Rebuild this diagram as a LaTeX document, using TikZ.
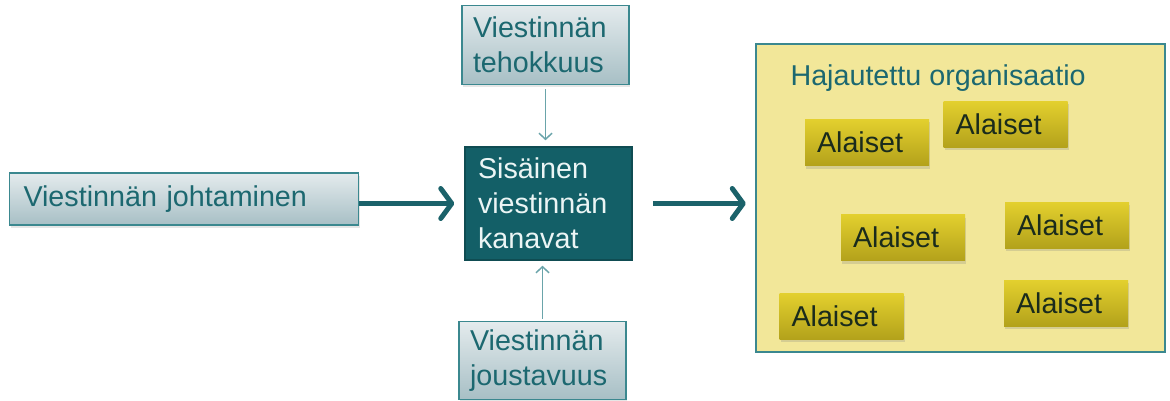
\documentclass[tikz,border=0pt]{standalone}
\usepackage{fontspec}
\setmainfont{Liberation Sans}
\usepackage{xcolor}
\usetikzlibrary{positioning,arrows.meta,shadows}

\definecolor{tealline}{HTML}{3B888F}
\definecolor{tealtext}{HTML}{1C6870}
\definecolor{tealdark}{HTML}{135F67}
\definecolor{tealarrow}{HTML}{1B626A}
\definecolor{tealthin}{HTML}{6AA4AA}
\definecolor{greytop}{HTML}{E4EBED}
\definecolor{greybot}{HTML}{A7BFC5}
\definecolor{orgfill}{HTML}{F2E799}
\definecolor{goldtop}{HTML}{E3D02E}
\definecolor{goldbot}{HTML}{B3A21B}
\definecolor{subtext}{HTML}{1A2B1C}

\begin{document}
\begin{tikzpicture}[x=1pt, y=-1pt, font=\fontsize{28.7}{35}\selectfont,
    lightbox/.style = {draw=tealline, line width=1.5pt, top color=greytop, bottom color=greybot, text=tealtext, align=left, inner xsep=11pt, inner ysep=0pt, drop shadow={shadow xshift=1pt, shadow yshift=-3pt, opacity=0.2}},
    darkbox/.style = {draw=tealdark!80!black, line width=1.5pt, fill=tealdark, text=white!92!teal, align=left, inner xsep=13pt, inner ysep=0pt},
    orgbox/.style = {draw=tealline, line width=2.5pt, fill=orgfill, minimum width=409pt, minimum height=308pt},
    subbox/.style = {top color=goldtop, bottom color=goldbot, text=subtext, align=left, text width=100pt, inner xsep=12pt, inner ysep=0pt, minimum height=46pt, drop shadow={shadow xshift=1pt, shadow yshift=-3pt, opacity=0.25}},
    thickarrow/.style = {draw=tealarrow, line width=5pt, -{Straight Barb[length=11pt, width=30pt, round]}},
    thinarrow/.style = {draw=tealthin, line width=1.5pt, -{Straight Barb[length=6pt, width=13pt]}}]
    \useasboundingbox (0,0) rectangle (1170,401);

    \node[darkbox, text width=141pt, minimum height=113pt] (2) at (548.5,203.5) {Sisäinen\\viestinnän\\kanavat};
    \node[lightbox, text width=145pt, minimum height=79pt] (3) [above=61pt of 2, xshift=-3pt] {Viestinnän\\tehokkuus};
    \node[lightbox, text width=145pt, minimum height=78pt] (4) [below=60pt of 2, xshift=-6pt] {Viestinnän\\joustavuus};
    \node[lightbox, text width=321pt, inner xsep=14pt, minimum height=52pt] (1) [left=105pt of 2, yshift=4.5pt] {Viestinnän johtaminen};
    \node[orgbox] (5) [right=122pt of 2, yshift=5.5pt] {};

    \node[anchor=base west, text=tealtext] (12) at (787,86) {Hajautettu organisaatio};

    \node[subbox] (6) at (867,142.5) {Alaiset};
    \node[subbox] (7) at (1005.5,124.5) {Alaiset};
    \node[subbox] (8) at (903,237.5) {Alaiset};
    \node[subbox] (9) at (1067,225) {Alaiset};
    \node[subbox] (10) at (841.5,316) {Alaiset};
    \node[subbox] (11) at (1066,303) {Alaiset};

    \path (1.east |- 2.west) edge[thickarrow, shorten >=10pt] (2.west);
    \path (2.east) edge[thickarrow, shorten <=20pt, shorten >=9pt] (2.east -| 5.west);
    \path (3) edge[thinarrow, shorten <=4pt, shorten >=6pt] (3.south |- 2.north);
    \path (4) edge[thinarrow, shorten <=2pt, shorten >=5pt] (4.north |- 2.south);

\end{tikzpicture}
\end{document}
